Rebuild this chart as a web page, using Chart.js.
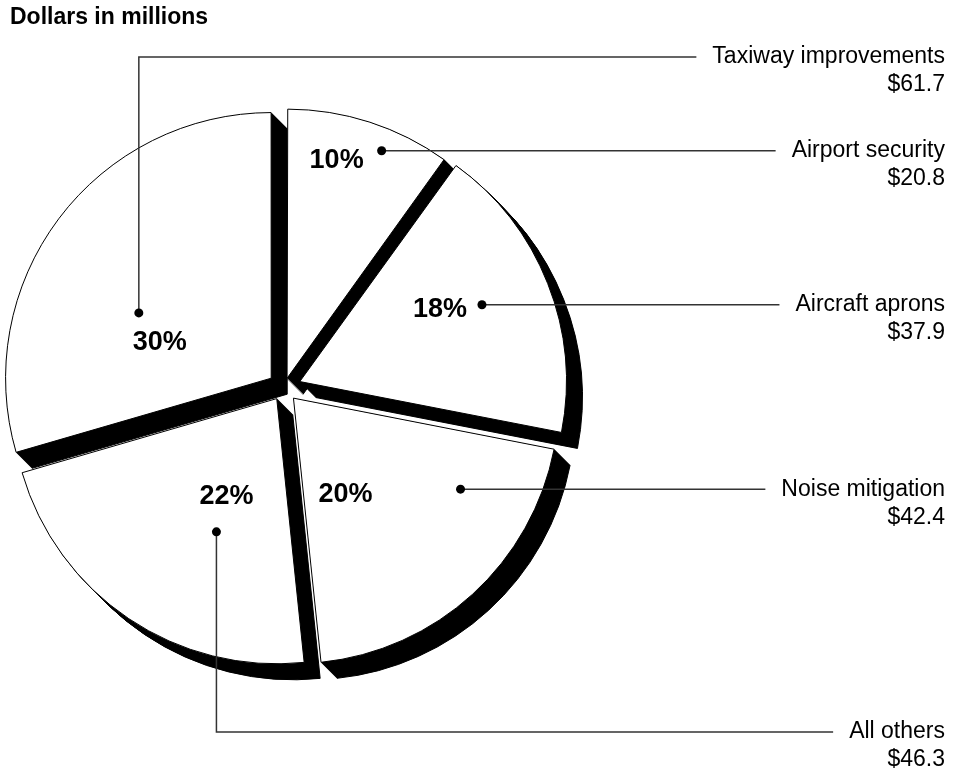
<!DOCTYPE html>
<html>
<head>
<meta charset="utf-8">
<script src="https://cdn.jsdelivr.net/npm/chart.js@4"></script>
<style>
  html, body { margin: 0; padding: 0; background: #fff; }
  #wrap { width: 954px; height: 776px; position: relative; }
</style>
</head>
<body>
<div id="wrap"><canvas id="pie-chart"></canvas></div>
<script>
// slices go clockwise from 12 o'clock
const categories = ["Airport security", "Aircraft aprons", "Noise mitigation", "All others", "Taxiway improvements"];
const amounts = [20.8, 37.9, 42.4, 46.3, 61.7];
const percentLabels = ["10%", "18%", "20%", "22%", "30%"];
const amountLabels = ["$20.8", "$37.9", "$42.4", "$46.3", "$61.7"];

const FONT = "'Liberation Sans', Arial, Helvetica, sans-serif";
const DEPTH = 16; // how far the black side of each slice reaches down-right

// callout dot: share of the slice sweep + share of the radius,
// percent text is placed relative to the dot
const callouts = [
  { t: 0.63, r: 0.93, dx: -45, dy: 10 },
  { t: 0.48, r: 0.746, dx: -42, dy: 5 },
  { t: 0.24, r: 0.718, dx: -115, dy: 5 },
  { t: 0.38, r: 0.552, dx: 10, dy: -35, lineY: 732 },
  { t: 0.40, r: 0.557, dx: 21, dy: 30, lineY: 57 }
];

// extrude every slice in black (many 1px steps) underneath the white slices
const depthPlugin = {
  id: "depth",
  beforeDatasetsDraw(chart) {
    const ctx = chart.ctx;
    const arcs = chart.getDatasetMeta(0).data;
    for (let s = DEPTH; s >= 1; s--) {
      ctx.save();
      ctx.translate(s, s);
      arcs.forEach(arc => {
        const orig = arc.options;
        arc.options = { ...orig, backgroundColor: "#000", borderColor: "#000" };
        arc.draw(ctx);
        arc.options = orig;
      });
      ctx.restore();
    }
  }
};

const calloutPlugin = {
  id: "callouts",
  afterDatasetsDraw(chart) {
    const ctx = chart.ctx;
    const arcs = chart.getDatasetMeta(0).data;
    const right = chart.width - 9;
    ctx.save();
    arcs.forEach((arc, i) => {
      const c = callouts[i];
      const shift = (arc.options.offset || 0) / 4;
      const mid = (arc.startAngle + arc.endAngle) / 2;
      const ox = arc.x + Math.cos(mid) * shift;
      const oy = arc.y + Math.sin(mid) * shift;
      const a = arc.startAngle + c.t * (arc.endAngle - arc.startAngle);
      const px = ox + Math.cos(a) * arc.outerRadius * c.r;
      const py = oy + Math.sin(a) * arc.outerRadius * c.r;
      const ly = c.lineY !== undefined ? c.lineY : py;

      ctx.font = "23px " + FONT;
      const nameW = ctx.measureText(categories[i]).width;
      const lineEnd = right - nameW - 16;

      // leader line
      ctx.strokeStyle = "#333";
      ctx.lineWidth = 1.5;
      ctx.beginPath();
      ctx.moveTo(px, py);
      if (c.lineY !== undefined) ctx.lineTo(px, ly);
      ctx.lineTo(lineEnd, ly);
      ctx.stroke();

      // dot
      ctx.fillStyle = "#000";
      ctx.beginPath();
      ctx.arc(px, py, 4.5, 0, Math.PI * 2);
      ctx.fill();

      // category + amount, right aligned
      ctx.textAlign = "right";
      ctx.textBaseline = "middle";
      ctx.fillText(categories[i], right, ly);
      ctx.fillText(amountLabels[i], right, ly + 28);

      // percent
      ctx.font = "bold 27px " + FONT;
      ctx.textAlign = "center";
      ctx.fillText(percentLabels[i], px + c.dx, py + c.dy);
    });
    ctx.restore();
  }
};

const ctx = document.getElementById("pie-chart").getContext("2d");

new Chart(ctx, {
  type: "pie",
  data: {
    labels: categories,
    datasets: [{
      data: amounts,
      backgroundColor: "#fff",
      borderColor: "#000",
      borderWidth: 1,
      offset: [40, 68, 56, 52, 64],
      clip: false
    }]
  },
  options: {
    responsive: true,
    maintainAspectRatio: false,
    animation: false,
    radius: 265,
    layout: {
      padding: { left: 10, right: 396, top: 0, bottom: 32 }
    },
    plugins: {
      legend: { display: false },
      tooltip: { enabled: false },
      title: {
        display: true,
        text: "Dollars in millions",
        align: "start",
        color: "#000",
        font: { family: FONT, size: 23, weight: "bold" },
        padding: { top: 4, bottom: 0 }
      }
    }
  },
  plugins: [depthPlugin, calloutPlugin]
});
</script>
</body>
</html>
